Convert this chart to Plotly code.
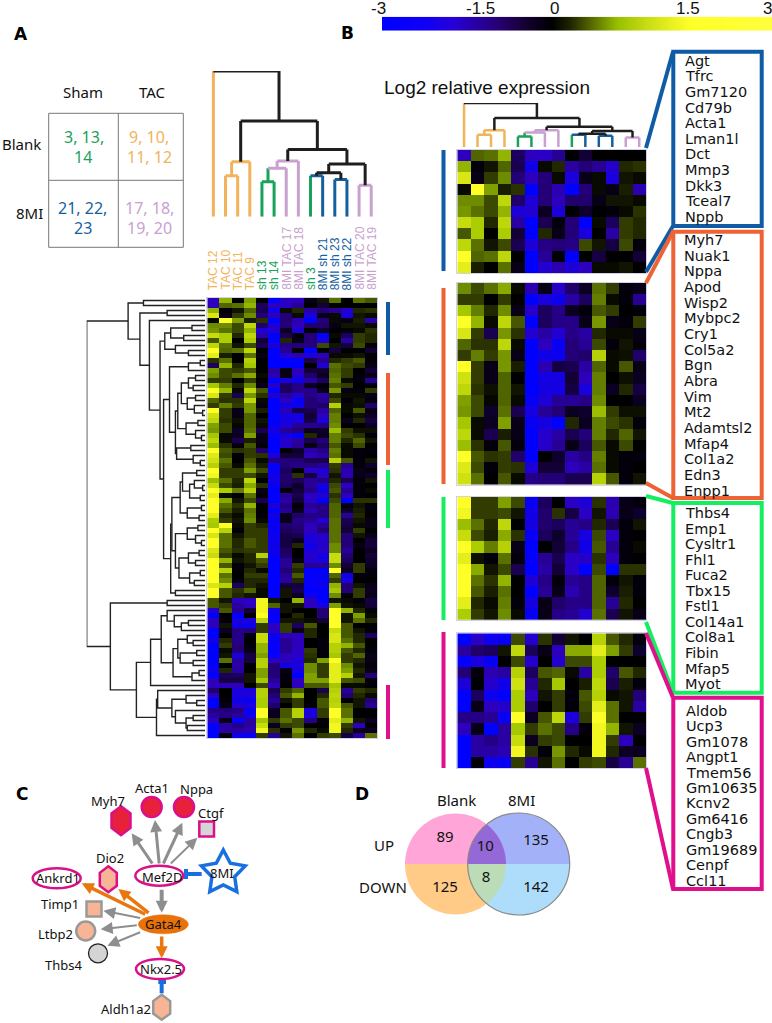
import numpy as np
import plotly.graph_objects as go

W, H = 772, 1023

# ---------- DATA ----------
col_labels = ["TAC 12", "TAC 10", "TAC 11", "TAC 9", "sh 13", "sh 14", "8MI TAC 17", "8MI TAC 18",
              "sh 3", "8MI sh 21", "8MI sh 23", "8MI sh 22", "8MI TAC 20", "8MI TAC 19"]
col_group = ["tac", "tac", "tac", "tac", "sh", "sh", "mt", "mt", "sh", "ms", "ms", "ms", "mt", "mt"]

# (height, left, right); a leaf is the next column / row in order
col_tree = (1.0, "tac",
            (.657, (.378, (.281, "tac", "tac"), "tac"),
             (.462, (.382, (.332, (.24, "sh", "sh"), "mt"), "mt"),
              (.362, (.302, (.281, "sh", "ms"), (.256, "ms", "ms")), (.215, "mt", "mt")))))

block1 = [
 [-1.5,.45,.5,.8,-.8,-1.5,-1.6,-1.2,0,-.5,0,0,0,0],
 [.8,-.1,.1,.45,-.7,-2.2,.05,.2,-1.3,-1,-1.2,-1.7,.2,.25],
 [1.2,-.2,.3,.6,-1,-1.5,-1,.05,-2,-.2,.05,-2,.1,.05],
 [.05,1.5,.7,.15,.25,-2.8,-1,-1.4,-2.9,-1,.05,-.2,.15,-1.4],
 [.6,.6,.35,1.05,-.9,-1.9,-1,-1.5,-.9,-.9,-.2,.1,.1,.05],
 [.65,.5,.35,.8,-1.9,-1.8,-.3,-1.9,0,-.4,0,-.1,.05,.25],
 [1.1,.95,.2,1.05,-1.3,-2.8,-.7,-.1,-1,-2.7,.05,-.8,.3,.2],
 [.4,.95,0,.95,-.5,-2.8,.2,-.2,-1,-2,0,-1.3,.3,.2],
 [1.05,.5,.1,.35,-.7,-1.9,-1.1,-1,-1.1,.35,.1,-.6,.35,-.1],
 [1.5,.45,.5,1.05,0,-2.9,-1.2,0,-2.9,0,-.6,0,0,-.5],
 [1.3,.15,0,.5,-.2,-2.9,-1.8,-1.4,-1.9,-1.5,.05,.05,.1,0],
]
block2 = [
 [.6,.35,.5,.75,.05,-1.4,-.2,-1.7,-.9,-.3,.5,.3,-.1,-.2],
 [.3,.3,0,.3,0,-2.8,-2,-2.3,-1.3,-.8,.55,.05,-.1,-1.2],
 [.9,.55,.2,.6,-.2,-1.7,-.8,-1.1,-.3,-.1,.4,.3,0,-.1],
 [1.5,.8,.05,1.05,.4,-2.6,-.8,-1.1,-1.1,-.2,.65,-.2,-.1,.3],
 [1.2,.3,-.7,.65,.25,-1.8,-1.3,-1.8,-1.1,-1.3,.2,.05,.05,-.2],
 [.45,.25,.25,1.05,.05,-2.9,-1.5,-2.4,-1,-1.2,.35,-.1,.1,-.1],
 [.3,.55,.3,.65,-.2,-2.9,-2.2,-2.3,-1,-.9,1.0,.05,.08,-.9],
 [1.5,.3,-.2,.65,.15,-2.9,-1.4,-.6,-.7,-1.3,.45,.05,.4,-.2],
 [1.15,.3,-.2,.45,0,-2.8,-2.1,-2.1,-.5,-1.5,.55,0,.08,-.3],
 [1.05,.25,.08,.45,.1,-2.9,-2.1,-2.1,-.6,-2,.55,-.3,.2,-.6],
 [.7,.35,.03,.45,.05,-2.4,-1.9,-1.2,-1.2,-1.1,.6,0,0,-.3],
 [.65,.35,-.4,.5,-.7,-2.1,-1.2,-1,-.3,-.4,.85,.3,.08,.08],
 [.9,.05,-.3,.7,-.2,-2.4,-2.1,-2.8,.2,-.3,.55,.35,.25,-.1],
 [1.05,.05,-.7,.15,-.2,-2.9,-1.7,-1.3,-.7,-1,.55,.2,.45,.1],
 [.85,.25,-.1,.4,-.1,-2.6,-1.7,-1.2,-.2,-.8,.4,.05,.35,0],
 [1.5,.4,.25,.3,-.9,-2.7,0,-.4,-1.3,-1.1,.55,.05,-.1,-.1],
 [1.25,.35,-.1,.3,.25,-1.9,-.5,-.5,-1.5,-1.3,.5,.05,-.1,0],
 [1.15,.5,0,.4,.05,-1.1,-1,-1,-.7,-.7,1,.4,-.1,.1],
]
block3 = [
 [1.5,.3,.3,.7,.35,-2.4,-.8,0,-1.6,-1.9,.25,-1.4,-.2,-.1],
 [1.4,.3,.3,.35,.1,-2.2,-.9,.25,-.6,-1.6,.1,-1.4,-.2,-.4],
 [.85,.5,.2,1.05,0,-2.1,-.9,-.8,-1.2,-1.1,.2,-.7,-.1,.1],
 [1.1,.35,.15,.75,.25,-2.4,-.8,-.4,-1.2,-2.1,.35,-1.6,-.1,0],
 [1.5,.95,.55,1,-.2,-2.9,0,-.5,-1.1,-2.2,.4,-1.2,-.1,.05],
 [1.3,.08,-.1,.5,-.1,-2.5,-1.2,-.7,-1.6,-1.7,.25,-1.5,-.1,0],
 [1.5,.75,.1,.35,-.7,-2.9,-1.3,-.5,-1.6,-2.6,.35,-2.6,.25,.25],
 [1.5,.5,.25,.8,0,-1.9,-1.1,-.1,-1.2,-1.1,.45,-.1,.1,-.1],
 [1.5,.4,.15,.5,0,-2.7,-1.2,-.2,-1.4,-1.1,.45,-.4,.15,-.1],
 [1.3,.2,.05,.55,-.1,-2.1,-.2,-.9,-1.1,-1.1,.45,-1.2,.2,0],
 [.95,.3,.1,.6,.05,-2.4,-.2,-1.1,-1.2,-1.8,.5,-.7,.1,-.2],
]
block4 = [
 [-2.9,-1.6,-2.3,-2.4,.35,-1.7,.25,-.5,.1,0,1,.4,.2,-.1],
 [-1.3,-.9,-.8,.1,1.05,-.8,-.2,-1.5,.75,.75,1.3,.7,.3,-.4],
 [-2.5,-2,-2.4,0,.35,-1.7,0,-1.7,.35,.35,.95,0,0,0],
 [-1,-.1,-1.4,-1.3,1,-.8,.4,.45,.05,-1.3,.95,-.9,.4,.2],
 [-1.9,0,-1.7,-2.2,1.15,-1.2,.2,.9,0,.15,1.05,-.7,.15,-.1],
 [-2.9,-.8,-2.3,-2.7,.95,-1.5,.1,.3,-.1,.4,1,.05,.1,-1],
 [-2.6,-.2,-1.5,-1.7,.95,-.9,0,.3,-.1,.35,1.3,.5,.1,-1.3],
 [-1.1,-1.1,-1.2,-2.4,1.5,-.3,.4,1.05,-2,.3,1.5,.5,0,0],
 [-1.5,-.2,-2.6,-1.3,.9,.3,.5,.35,-1.1,-.1,1.4,.8,.1,-.3],
 [-2.9,-1.3,-1.1,-1.3,1.1,-.3,.3,.35,0,0,1.4,.3,-1.5,0],
 [-2.9,-1.3,-1.3,-1.4,1.4,.25,-.1,.65,.2,.05,1.4,.2,-.3,-.3],
 [-2.9,-.1,-2.3,-2.4,.3,-1.2,.1,.5,0,.3,.35,-.6,-1.2,.5],
]
row_0 = [[-1.5,.8,-.05,.7,0,-2.6,-1.6,-1.5,-.2,.1,.5,0,.5,.4]]
rows_12_14 = [
 [.25,.5,0,1,0,-2.9,-2.6,-2.8,-.7,-1.2,.2,.3,.4,-.1],
 [-.8,.8,.2,.9,0,-2.9,-2.8,-2.9,0,-1.8,.5,.35,.3,-.2],
 [.7,.35,.3,.4,0,-1.3,-.2,-1.5,-.5,-.5,.45,.3,0,-.5],
]
row_33 = [[1,.4,.05,.5,.15,-2.5,-1,-1.1,-1.1,-1.2,.3,-1.2,-.1,-.4]]
rows_45_87 = [
 [.9,1.5,.05,.3,.2,-2.4,-.9,-1,-1.5,-1.2,.5,-.6,.05,-.2],
 [1.5,1,-.1,.3,.3,-2.4,-.8,-.9,-1.5,-1,.5,-.5,.3,0],
 [1.2,.5,.1,.3,.3,-2.3,-.6,-.7,-1.9,-1.7,.5,-1,.1,-.2],
 [1.5,.5,.2,.4,.3,-2.3,-.6,-.3,-2,-1.7,.5,-1,0,-.5],
 [1.5,.5,.2,.4,.3,-2.3,-.6,.2,-2.2,-1.7,.6,-1,-.2,-.5],
 [1.2,.4,.25,.3,.3,-2.2,-.8,0,-2,-1.6,.6,-1.2,0,-.3],
 [1.1,.3,.05,.2,1,-2.4,-.9,0,-1.7,-2.2,1.1,-1,0,-.5],
 [1.5,.8,.1,.2,.4,-2.6,-1.2,-.2,-1.8,-2,1.1,-.8,0,-.4],
 [1.5,.4,-.1,.1,.3,-2.6,-1.2,.3,-1.2,-1.2,.6,-.5,.3,-.3],
 [1.5,1,-.1,.2,.05,-3,-1,.2,-3,-3,1.5,-.3,.3,-.1],
 [1.5,.5,0,.3,.3,-2.7,-1.2,.4,-2.5,-2.4,.45,-2.2,-.1,-.1],
 [1.5,.6,-.1,.2,.2,-2.9,-1.3,.2,-2.5,-2.5,.3,-2,0,0],
 [1.2,1,-.8,.2,.1,-2.8,-.5,-.6,-2.5,-2.2,.8,-1,.1,-.2],
 [1.5,.4,.25,.45,.05,-2.8,.1,-.7,-2.6,-2.9,.9,-1,.3,-.3],
 [1.5,.4,.2,.1,.05,-2.9,.1,-.3,-2.3,-2.9,.6,-.1,.3,-.2],
 [.4,.1,-1.5,-1.6,1.4,.1,0,.8,-1.5,-2.9,.1,.05,-.1,-.6],
 [.4,.3,-1.3,-1.5,1.4,.45,.1,.1,-1.5,-2,.7,.1,.05,-.5],
 [-1.8,.4,-1.2,-.5,1.4,-2.3,.1,-.05,0,-1,1.5,.8,.2,-.1],
 [-3,0,-2.9,0,1.5,-2.5,0,.2,0,-1,1.5,.1,.7,.05],
 [-1.5,-.1,-2,-2,1.05,-2.5,.1,.1,.05,-.5,1.5,.1,.5,.2],
 [-1.5,.1,-2.2,-2.3,.3,-1.5,.3,-.8,.4,0,1.5,.4,0,0],
 [-2.8,-.3,-1.1,-1.1,.3,-1.6,.3,-.2,.2,0,1.1,.4,.1,-.1],
 [-2.9,0,-1.1,-.1,1.1,-2.4,-1.5,-1.5,.2,0,1.2,.4,.2,-.8],
 [-2.1,.2,-1.1,0,1.1,-2.4,-1.2,-1.5,0,-.1,1.2,.5,.2,0],
 [-2.9,.3,-1,-.1,.8,-2.5,-1.2,-1.5,0,-.1,1,.8,.4,0],
 [-2.9,.05,-1,-.2,.8,-2.5,-1.2,-1.6,.3,-.1,1,.4,.2,-.1],
 [-2.9,.1,-2,-.6,.7,-2.5,-1.5,-1.6,.25,-.1,.9,.3,.45,-.2],
 [-2.9,.5,-1.3,-.6,1,-1.5,-1.5,-1.9,.2,.7,1.5,.3,.2,-.2],
 [-2.5,0,-1.3,0,1,-1,-2.2,-2,.6,.3,1.3,.6,.1,-.1],
 [-2.3,.2,-1.3,0,.7,-1,-.2,-2.1,.6,.3,1.3,.7,.2,-.2],
 [-3,-.8,-.8,.1,.7,-1,-.1,-3,.7,.3,1.3,1,.1,-1],
 [-1.5,-.6,-.6,.1,.9,-1.2,-.1,-1.5,.7,.7,1.3,.4,.35,-.1],
 [-1.5,-1.5,-1.5,0,.35,-1.5,0,-1.5,.4,.4,.9,.05,.05,0],
 [-.9,0,-2,-2,1,-.7,.3,.45,0,-.7,1,-1.2,.3,.2],
 [-1.6,0,-2,-2,1,-1,.4,.8,0,.2,1.05,-1,.2,.05],
 [-2.8,-.1,-2.3,-2.4,.95,-1.2,.1,.3,0,.4,1,0,.1,-1],
 [-2.6,-.2,-1.7,-2,.95,-.9,0,.3,-.1,.4,1.05,.4,.1,-1.2],
 [-1.1,-1,-1.1,-2.4,1.5,-.3,.4,1,-2,.3,1.5,.5,0,0],
 [-1.3,-1.1,-1.3,-2.3,1.5,-.3,.4,1,-2,.3,1.5,.5,0,0],
 [-1.5,-.2,-2.6,-1.3,.9,.3,.5,.35,-1.1,-.1,1.3,.8,.1,-.3],
 [-2.9,-1.3,-1.1,-1.3,1.1,-.3,.3,.35,0,0,1.4,.3,-1.5,0],
 [-2.9,-1.3,-1.3,-1.4,1.4,.25,-.1,.65,.2,.05,1.4,.2,-.3,-.3],
 [-2.9,-.1,-2.3,-2.4,.3,-1.2,.1,.5,0,.3,.35,-.6,-1.2,.5],
]
panel_a_rows = row_0 + block1 + rows_12_14 + block2 + row_33 + block3 + rows_45_87

# row dendrogram of panel A: (height, left, right); 0 is a leaf (next row)
row_tree = (100,
  (65, (52, 0, 0),
   (55, (32, 0, 0),
    (47, 0,
     (38,
      (34, (29, (11, 0, 0), (18, 0, 0)), (25, 0, (14, 0, 0))),
      (35,
       (30, (14, (4, 0, 0), 0),
        (25,
         (23, (20, (14, (8, 0, 0), (10, 0, 0)), (15, (8, 0, 0), (9, 0, (2, 0, 0)))),
          (16, (6, 0, 0), (8, 0, (3, 0, 0)))),
         (24, (12, 0, 0), (10, 0, (4, 0, 0))))),
       (29,
        (28,
         (21, (19, (7, 0, 0), (13, (9, 0, (2, 0, 0)), (4, 0, 0))), (15, (3, 0, 0), (5, 0, 0))),
         (25, (15, (6, 0, 0), (8, 0, (3, 0, 0))),
          (22, (14, (5, 0, 0), (8, 0, 0)), (13, (4, 0, 0), (9, 0, 0))))),
        (25, 0, 0))))))),
  (80, (32, 0, 0),
   (58,
    (46,
     (37,
      (32, 0, (26, 0, (20, (14, 0, 0), 0))),
      (27, (23, (15, 0, (10, 0, 0)), (21, (7, 0, 0), (10, 0, 0))), (11, (5, 0, 0), 0))),
     0),
    (41, (40, 0, (28, (16, 0, (7, 0, 0)), (25, 0, (16, (10, 0, 0), (15, 0, 0))))), 0))))

genes_blue = ["Agt", "Tfrc", "Gm7120", "Cd79b", "Acta1", "Lman1l", "Dct", "Mmp3", "Dkk3", "Tceal7", "Nppb"]
genes_orange = ["Myh7", "Nuak1", "Nppa", "Apod", "Wisp2", "Mybpc2", "Cry1", "Col5a2", "Bgn", "Abra", "Vim", "Mt2",
                "Adamtsl2", "Mfap4", "Col1a2", "Edn3", "Enpp1"]
genes_green = ["Thbs4", "Emp1", "Cysltr1", "Fhl1", "Fuca2", "Tbx15", "Fstl1", "Col14a1", "Col8a1", "Fibin", "Mfap5", "Myot"]
genes_pink = ["Aldob", "Ucp3", "Gm1078", "Angpt1", "Tmem56", "Gm10635", "Kcnv2", "Gm6416", "Cngb3", "Gm19689", "Cenpf", "Ccl11"]

venn_counts = ["89", "10", "135", "125", "8", "142"]
colorbar_ticks = ["-3", "-1.5", "0", "1.5", "3"]

# ---------- STYLE ----------
C_OR, C_GR, C_PK, C_BL, C_BK = "#f2b35a", "#18a25a", "#c9a1cf", "#165f9f", "#1e1e1e"
group_col = {"tac": C_OR, "sh": C_GR, "mt": C_PK, "ms": C_BL}
BAR_BL, BAR_OR, BAR_GR, BAR_MG = "#0f5ba6", "#ee6335", "#16ee62", "#e00f8c"
MAG = "#d9108a"
GREY = "#8e8e8e"
ORG = "#e8770f"
BLUE2 = "#1a6fe0"
SALMON = "#f8b595"

heat_scale = [[(v + 3) / 6, c] for v, c in [
    (-3, "rgb(0,0,255)"), (-2.6, "rgb(0,0,255)"), (-1.5, "rgb(45,0,190)"), (-1, "rgb(35,0,120)"),
    (-.5, "rgb(18,0,55)"), (0, "rgb(0,0,0)"), (.3, "rgb(50,60,0)"), (.6, "rgb(110,140,0)"),
    (.9, "rgb(165,200,0)"), (1.2, "rgb(215,230,20)"), (1.5, "rgb(255,255,40)"), (3, "rgb(255,255,50)")]]
ramp_scale = [[(x - 382) / 390, c] for x, c in [
    (382, "rgb(0,0,255)"), (425, "rgb(15,0,245)"), (453, "rgb(40,0,215)"), (496, "rgb(40,0,120)"), (520, "rgb(25,0,60)"),
    (552, "rgb(0,0,0)"), (570, "rgb(30,35,0)"), (593, "rgb(90,110,0)"), (617, "rgb(150,190,0)"),
    (647, "rgb(200,220,20)"), (690, "rgb(255,255,40)"), (772, "rgb(255,255,60)")]]

fig = go.Figure()
axis_count = [1]
hidden = dict(visible=False, fixedrange=True, showgrid=False, zeroline=False)


def add_axes(x0, x1, y0, y1, xr, yr, frame=False):
    axis_count[0] += 1
    n = axis_count[0]
    extra = dict(visible=True, showticklabels=False, ticks="", showline=True, mirror=True,
                 linecolor="#d3d0ea", linewidth=1, showgrid=False, zeroline=False, fixedrange=True) if frame else hidden
    fig.layout[f"xaxis{n}"] = dict(domain=[x0 / W, x1 / W], range=xr, anchor=f"y{n}", **extra)
    fig.layout[f"yaxis{n}"] = dict(domain=[1 - y1 / H, 1 - y0 / H], range=yr, anchor=f"x{n}", **extra)
    return f"x{n}", f"y{n}"


fig.update_layout(
    width=W, height=H, margin=dict(l=0, r=0, t=0, b=0), paper_bgcolor="white", plot_bgcolor="rgba(0,0,0,0)",
    showlegend=False, font=dict(family="Noto Sans", color="#111"),
    xaxis=dict(domain=[0, 1], range=[0, W], **hidden),
    yaxis=dict(domain=[0, 1], range=[H, 0], **hidden),
)


def heat(rows, x0, x1, y0, y1):
    n = len(rows)
    xa, ya = add_axes(x0, x1, y0, y1, [-.5, 13.5], [n - .5, -.5], frame=True)
    fig.add_trace(go.Heatmap(z=rows, xaxis=xa, yaxis=ya, colorscale=heat_scale, zmin=-3, zmax=3, showscale=False,
                             hoverinfo="skip"))


HA = (207.3, 377.3, 298, 738)
heat(panel_a_rows, *HA)
HB_X = (457.3, 646)
heat(block1, *HB_X, 150, 273.3)
heat(block2, *HB_X, 282.7, 484.7)
heat(block3, *HB_X, 496.7, 620)
heat(block4, *HB_X, 633.3, 768)

# colour ramp
xa, ya = add_axes(382, 772, 16.7, 30.7, [-.5, 389.5], [-.5, .5])
fig.add_trace(go.Heatmap(z=[np.linspace(0, 1, 390).tolist()], xaxis=xa, yaxis=ya, colorscale=ramp_scale,
                         zmin=0, zmax=1, showscale=False, hoverinfo="skip"))


# column dendrograms
def col_dendro(x0, x1, y0, y1, width):
    xa, ya = add_axes(x0, x1, y0, y1, [-.5, 13.5], [0, 1])
    counter = [0]
    segs = []

    def walk(node):
        if isinstance(node, str):
            i = counter[0]
            counter[0] += 1
            return i, 0.0, group_col[node]
        h, l, r = node
        xl, hl, cl = walk(l)
        xr, hr, cr = walk(r)
        if h in (.378, .281) and cl == C_OR:
            c = C_OR
        elif h in (.382, .332):
            c = C_PK
        elif h == .24:
            c = C_GR
        elif h in (.281, .256):
            c = C_BL
        elif h == .215:
            c = C_PK
        else:
            c = C_BK
        if h in (.657, .462, .302, .362):
            if hl > 0:
                cl = C_BK
            if hr > 0:
                cr = C_BK
        segs.append(([xl, xl], [hl, h], cl))
        segs.append(([xr, xr], [hr, h], cr))
        segs.append(([xl, xr], [h, h], c))
        return (xl + xr) / 2, h, c

    walk(col_tree)
    segs.sort(key=lambda s: s[2] == C_BK)
    for xs, ys, c in segs:
        fig.add_trace(go.Scatter(x=xs, y=ys, xaxis=xa, yaxis=ya, mode="lines", hoverinfo="skip",
                                 line=dict(color=c, width=width, shape="linear")))


col_dendro(207.3, 377.3, 71, 216.7, 3)
col_dendro(457.3, 646, 103, 147, 2.5)

# row dendrogram
xa, ya = add_axes(86.7, 205, 298, 738, [100, 0], [87.5, -.5])
rx, ry, rc = [], [], [0]


def row_walk(node):
    if node == 0:
        i = rc[0]
        rc[0] += 1
        return i, 0
    h, l, r = node
    yl, hl = row_walk(l)
    yr, hr = row_walk(r)
    rx.extend([hl, h, h, hr, None])
    ry.extend([yl, yl, yr, yr, None])
    return (yl + yr) / 2, h


row_walk(row_tree)
assert rc[0] == 88, rc[0]
fig.add_trace(go.Scatter(x=rx, y=ry, xaxis=xa, yaxis=ya, mode="lines", hoverinfo="skip",
                         line=dict(color="#222", width=1.4)))

# ---------- annotations / shapes ----------
ann, shp = [], []


def text(x, y, s, size=15, color="#111", family="Noto Sans", xa="center", ya="middle", bold=False, angle=0):
    ann.append(dict(x=x, y=y, xref="x", yref="y", text=f"<b>{s}</b>" if bold else s, showarrow=False,
                    xanchor=xa, yanchor=ya, textangle=angle, font=dict(size=size, color=color, family=family)))


def line(x0, y0, x1, y1, color, width):
    shp.append(dict(type="line", xref="x", yref="y", x0=x0, y0=y0, x1=x1, y1=y1, line=dict(color=color, width=width)))


def rect(x0, y0, x1, y1, color, width, fill="rgba(0,0,0,0)"):
    shp.append(dict(type="rect", xref="x", yref="y", x0=x0, y0=y0, x1=x1, y1=y1,
                    line=dict(color=color, width=width), fillcolor=fill))


def ell(cx, cy, rx_, ry_, fill, color, width, layer="above"):
    shp.append(dict(type="circle", xref="x", yref="y", x0=cx - rx_, x1=cx + rx_, y0=cy - ry_, y1=cy + ry_,
                    fillcolor=fill, line=dict(color=color, width=width), layer=layer))


def poly(pts, fill, color="rgba(0,0,0,0)", width=0, layer="above"):
    p = "M " + " L ".join(f"{a:.2f},{b:.2f}" for a, b in pts) + " Z"
    shp.append(dict(type="path", xref="x", yref="y", path=p, fillcolor=fill, line=dict(color=color, width=width), layer=layer))


def hexagon(cx, cy, w, h, fill, color, width):
    poly([(cx, cy - h), (cx + w, cy - h * .5), (cx + w, cy + h * .5), (cx, cy + h), (cx - w, cy + h * .5),
          (cx - w, cy - h * .5)], fill, color, width)


def arrow(x0, y0, x1, y1, color, width):
    ann.append(dict(x=x1, y=y1, ax=x0, ay=y0, xref="x", yref="y", axref="x", ayref="y", text="", showarrow=True,
                    arrowhead=2, arrowsize=2.4 / width, arrowwidth=width, arrowcolor=color, standoff=0))


# panel letters
for s, x, y in [("A", 21, 34), ("B", 347, 33), ("C", 22, 794), ("D", 362, 794)]:
    text(x, y, s, size=17, family="DejaVu Sans", bold=True, color="#000")

# table
rect(48.7, 113.3, 183.3, 247.3, "#777", 1)
line(118.3, 113.3, 118.3, 247.3, "#777", 1)
line(48.7, 180.3, 183.3, 180.3, "#777", 1)
text(82.7, 91.7, "Sham")
text(152.7, 91.7, "TAC")
text(21.7, 144, "Blank")
text(29.3, 213, "8MI")
for (x, y, s, c) in [(84, 137, "3, 13,", C_GR), (82.7, 157, "14", C_GR), (149, 137, "9, 10,", C_OR), (149, 157, "11, 12", C_OR),
                     (82, 208, "21, 22,", C_BL), (83.3, 228, "23", C_BL), (149, 208, "17, 18,", C_PK), (149, 228, "19, 20", C_PK)]:
    text(x, y, s, size=16, color=c)

# sample labels
cw = (377.3 - 207.3) / 14
for i, (lab, g) in enumerate(zip(col_labels, col_group)):
    text(207.3 + cw * (i + .5), 292, lab, size=12, color=group_col[g], family="Liberation Sans", ya="bottom", angle=-90)

# colour ramp ticks
for s, x in zip(colorbar_ticks, [378, 480.7, 554, 688, 767]):
    text(x, 8, s, size=17, family="Liberation Sans", color="#111")
text(382, 87, "Log2 relative expression", size=19, family="Liberation Sans", xa="left", color="#111")

# side bars
for x0, y0, y1, c in [(386, 302, 355, BAR_BL), (386, 373, 465, BAR_OR), (386, 470, 528, BAR_GR), (386, 685, 739, BAR_MG),
                      (441.5, 150, 271, BAR_BL), (441.5, 288, 484, BAR_OR), (441.5, 497, 620, BAR_GR), (441.5, 632, 768, BAR_MG)]:
    rect(x0, y0, x0 + 4, y1, c, 0, fill=c)

# gene boxes with connectors
boxes = [(51.7, 226, BAR_BL, genes_blue, 60.7, 15.6, 683, (148, 272)),
         (231.7, 498, BAR_OR, genes_orange, 240, 15.67, 682, (283, 483)),
         (503, 692.7, BAR_GR, genes_green, 513, 15.55, 683, (496, 622)),
         (697.7, 889, BAR_MG, genes_pink, 710.7, 15.45, 684, (633, 768))]
for y0, y1, c, genes, gy, dy, gx, (c0, c1) in boxes:
    line(646, c0, 673, y0, c, 4)
    line(646, c1, 673, y1, c, 4)
    rect(673.3, y0, 761.7, y1, c, 4)
    for i, g in enumerate(genes):
        text(gx, gy + dy * i, g, size=14.5, family="DejaVu Sans", xa="left", color="#111")

# ----- network (panel C)
zx = lambda v: 10 + v / 3
zy = lambda v: 770 + v / 3
for a, b, c, d, col, w in [(430, 285, 365, 190, GREY, 3), (448, 285, 435, 150, GREY, 3), (458, 285, 517, 158, GREY, 3),
                           (478, 285, 562, 203, GREY, 2), (455, 355, 455, 428, GREY, 4), (410, 435, 215, 340, ORG, 3.5),
                           (420, 432, 325, 357, ORG, 3.5), (395, 445, 280, 422, GREY, 2), (385, 465, 272, 478, GREY, 2),
                           (395, 485, 292, 527, GREY, 2), (455, 495, 455, 565, ORG, 3.5)]:
    arrow(zx(a), zy(b), zx(c), zy(d), col, w)
line(zx(575), zy(312), zx(530), zy(312), BLUE2, 4)
line(zx(528), zy(297), zx(528), zy(327), BLUE2, 4)
line(zx(455), zy(670), zx(455), zy(637), BLUE2, 4)
line(zx(445), zy(636), zx(468), zy(636), BLUE2, 4)

hexagon(121, 820.7, 9.5, 14.5, "#e8213a", MAG, 2.5)
ell(151.7, 807, 10, 10, "#e8213a", MAG, 2.5)
ell(184, 807, 10, 10, "#e8213a", MAG, 2.5)
rect(199.3, 821.5, 214, 836.5, MAG, 2.5, fill="#d5d5d5")
ell(159.3, 875.7, 24, 10, "white", MAG, 2.5)
hexagon(108.3, 879.3, 8.5, 13, SALMON, MAG, 2.5)
ell(56.7, 878.3, 24, 10, "white", MAG, 2.5)
rect(86.5, 901.5, 101.5, 916.5, "#999", 2.5, fill=SALMON)
ell(85.7, 931, 9.5, 9.5, SALMON, "#999", 2.5)
ell(98, 953.3, 9.5, 9.5, "#d4d4d4", "#222", 1.3)
ell(163.3, 924.3, 25, 9.5, "#e8710a", "#e8710a", 0.5)
ell(160, 969, 24, 10, "white", MAG, 2.5)
hexagon(161.7, 1007.3, 8.5, 12.5, SALMON, "#999", 2.5)
star = []
for k in range(10):
    r = 23 if k % 2 == 0 else 12
    ang = -np.pi / 2 + k * np.pi / 5
    star.append((223.3 + r * np.cos(ang), 873 + r * np.sin(ang)))
poly(star, "white", BLUE2, 3.5)

for s, a, b in [("Ankrd1", 145, 325), ("Myh7", 293, 93), ("Acta1", 427, 55), ("Nppa", 560, 57), ("Ctgf", 605, 128),
                ("Dio2", 300, 265), ("Mef2D", 457, 320), ("8MI", 637, 310), ("Timp1", 150, 403), ("Ltbp2", 135, 492),
                ("Gata4", 460, 462), ("Thbs4", 160, 585), ("Nkx2.5", 452, 597), ("Aldh1a2", 347, 716)]:
    text(zx(a), zy(b), s, size=13, color="#111")

# ----- Venn (panel D)
LC, RC, R1, R2, YC = 455.5, 518.7, 50.5, 51, 864


def arc(cx, r, a0, a1, n=60):
    t = np.radians(np.linspace(a0, a1, n))
    return [(cx + r * np.cos(v), YC + r * np.sin(v)) for v in t]


HALF = 51.5    # half-angle of the lens, degrees


def lens(up):
    s = -1 if up else 1
    return arc(RC, R2, 180, 180 - s * HALF) + arc(LC, R1, s * HALF, 0)


poly(arc(LC, R1, 180, 360), "#ffa5d8", layer="below")
poly(arc(LC, R1, 0, 180), "#ffcb87", layer="below")
poly(arc(RC, R2, 180, 360), "#a3b2f8", layer="below")
poly(arc(RC, R2, 0, 180), "#aedcfb", layer="below")
poly(lens(True), "#9468d6", layer="below")
poly(lens(False), "#bcdcb8", layer="below")
ell(RC, YC, R2, R2, "rgba(0,0,0,0)", "#888", 1.2, layer="below")

text(456, 800, "Blank")
text(521.7, 800, "8MI")
text(384, 845, "UP")
text(382.7, 886.7, "DOWN")
fig.add_trace(go.Scatter(x=[445, 485.3, 536, 445, 486, 536], y=[838.3, 847.3, 841.7, 888.3, 878.3, 888.3],
                         mode="text", text=venn_counts, hoverinfo="skip",
                         textfont=dict(size=15, family="Noto Sans", color="#111"), xaxis="x", yaxis="y"))

fig.update_layout(annotations=ann, shapes=shp)
fig.write_html("out.html", config={"displayModeBar": False},
               post_script="document.body.style.margin='0';document.body.style.overflow='hidden';")
